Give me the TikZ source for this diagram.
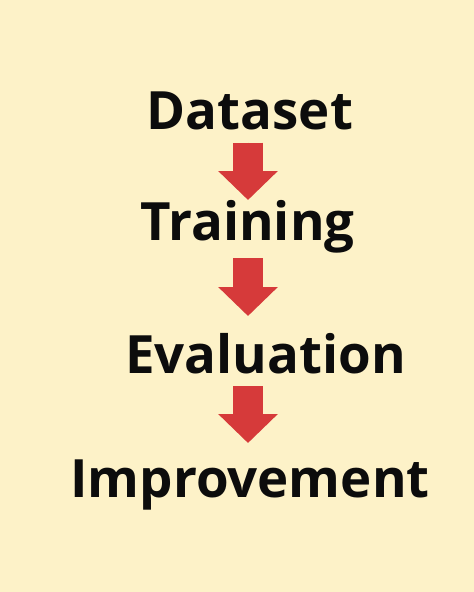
\documentclass[tikz,border=0pt]{standalone}
\usepackage{fontspec}
\setmainfont{Open Sans}[BoldFont={Open Sans Bold}]
\usepackage{tikz}
\usetikzlibrary{arrows.meta,positioning,calc}
\definecolor{paper}{HTML}{FDF2C8}
\definecolor{flowred}{HTML}{D63A3A}
\definecolor{ink}{HTML}{0C0C0C}

\begin{document}
\begin{tikzpicture}[>={Triangle[width=58bp,length=29bp]},
  stage/.style={anchor=base,inner sep=0pt,text=ink,font=\fontsize{53}{60}\selectfont\bfseries},
  flow/.style={->,draw=flowred,fill=flowred,line width=30bp},
]
%%
\fill [paper] (0bp,0bp) rectangle (474bp,-592bp);
\useasboundingbox (0bp,0bp) rectangle (474bp,-592bp);
  \node (dataset) at (250bp,-129bp) [stage] {Dataset};
  \node (training) at (247.5bp,-240bp) [stage] {Training};
  \node (evaluation) at (265.5bp,-373bp) [stage] {Evaluation};
  \node (improvement) at (250bp,-497bp) [stage] {Improvement};
  \coordinate (d1) at (248bp,-142.7bp);
  \coordinate (t1) at (248bp,-200bp);
  \coordinate (t2) at (248bp,-258.3bp);
  \coordinate (e1) at (248bp,-316bp);
  \coordinate (e2) at (248bp,-386bp);
  \coordinate (i1) at (248bp,-443bp);
  \draw [flow] (d1) -- (t1);
  \draw [flow] (t2) -- (e1);
  \draw [flow] (e2) -- (i1);
%
\end{tikzpicture}
\end{document}
